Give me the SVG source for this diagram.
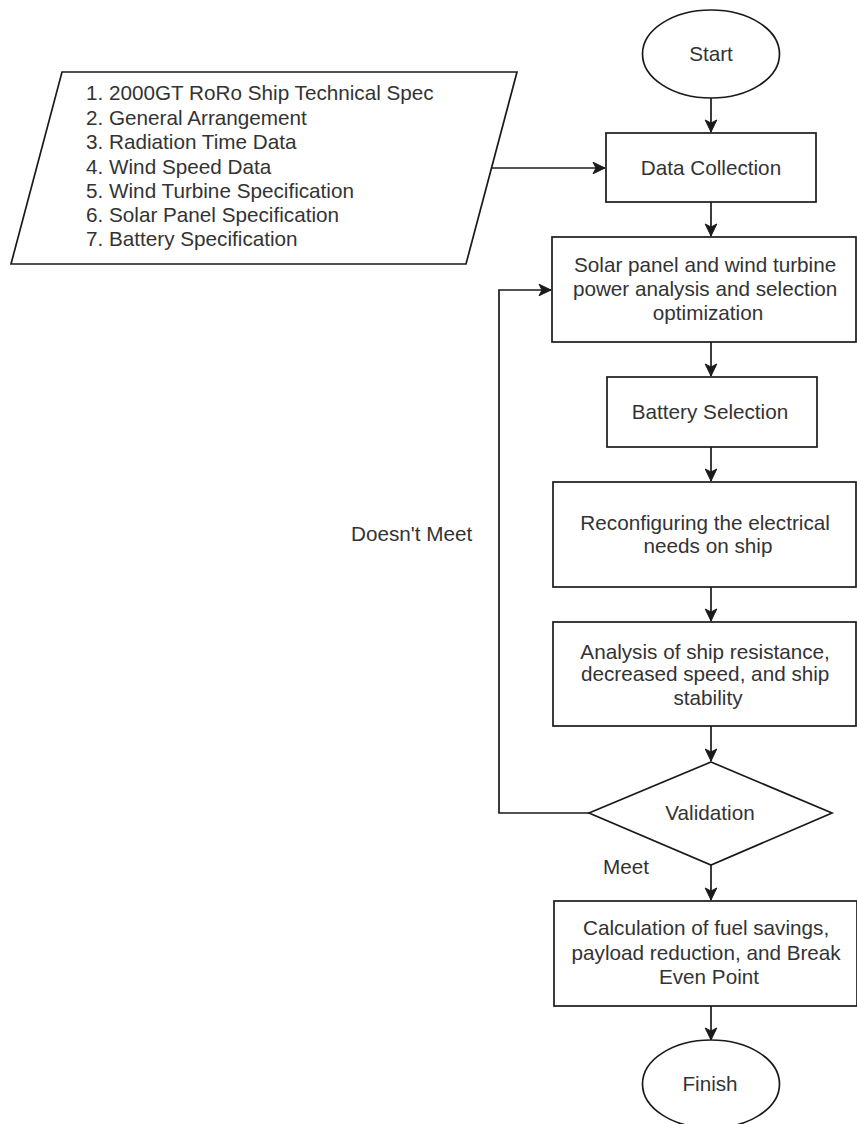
<svg xmlns="http://www.w3.org/2000/svg" width="857" height="1124" viewBox="0 0 857 1124">
  <style>
    .shape { fill: #ffffff; stroke: #1a1a1a; stroke-width: 1.7; }
    .edge { fill: none; stroke: #1a1a1a; stroke-width: 1.7; }
    .label { font-family: "Liberation Sans", Arial, sans-serif; font-size: 20.7px; fill: #333333; }
    .mid { text-anchor: middle; }
  </style>
  <defs>
    <!-- classic notched arrowhead -->
    <marker id="arrow" markerUnits="userSpaceOnUse" markerWidth="16" markerHeight="16" viewBox="-14 -8 16 16" refX="0" refY="0" orient="auto">
      <path d="M0 0 L-12 -5.8 L-9 0 L-12 5.8 Z" fill="#1a1a1a" stroke="#1a1a1a" stroke-width="1" stroke-linejoin="miter"/>
    </marker>
  </defs>

  <rect width="857" height="1124" fill="#ffffff"/>

  <!-- connectors -->
  <g id="connectors">
    <line class="edge" x1="711" y1="98" x2="711" y2="132" marker-end="url(#arrow)"/>
    <line class="edge" x1="492" y1="168" x2="605" y2="168" marker-end="url(#arrow)"/>
    <line class="edge" x1="711" y1="202" x2="711" y2="236" marker-end="url(#arrow)"/>
    <line class="edge" x1="711" y1="342" x2="711" y2="376" marker-end="url(#arrow)"/>
    <line class="edge" x1="711" y1="447" x2="711" y2="481" marker-end="url(#arrow)"/>
    <line class="edge" x1="711" y1="587" x2="711" y2="621" marker-end="url(#arrow)"/>
    <line class="edge" x1="711" y1="726" x2="711" y2="761" marker-end="url(#arrow)"/>
    <line class="edge" x1="711" y1="865" x2="711" y2="900" marker-end="url(#arrow)"/>
    <line class="edge" x1="711" y1="1006" x2="711" y2="1040" marker-end="url(#arrow)"/>
    <!-- "Doesn't Meet" loop back to the power analysis step -->
    <polyline class="edge" points="589,813 499,813 499,290 551,290" marker-end="url(#arrow)"/>
    <text class="label" x="351" y="541">Doesn't Meet</text>
    <text class="label" x="603" y="874">Meet</text>
  </g>

  <g id="start">
    <ellipse class="shape" cx="711" cy="54" rx="68.5" ry="44"/>
    <text class="label mid" x="711" y="61">Start</text>
  </g>

  <g id="input-data">
    <polygon class="shape" points="62,72 517,72 466,264 11,264"/>
    <text class="label" x="86">
      <tspan x="86" y="100">1. 2000GT RoRo Ship Technical Spec</tspan>
      <tspan x="86" y="125">2. General Arrangement</tspan>
      <tspan x="86" y="149">3. Radiation Time Data</tspan>
      <tspan x="86" y="174">4. Wind Speed Data</tspan>
      <tspan x="86" y="198">5. Wind Turbine Specification</tspan>
      <tspan x="86" y="222">6. Solar Panel Specification</tspan>
      <tspan x="86" y="246">7. Battery Specification</tspan>
    </text>
  </g>

  <g id="data-collection">
    <rect class="shape" x="606" y="133" width="210" height="69"/>
    <text class="label mid" x="711" y="175">Data Collection</text>
  </g>

  <g id="power-analysis">
    <rect class="shape" x="552" y="237" width="304" height="105"/>
    <text class="label mid">
      <tspan x="708" y="272">Solar panel and wind turbine</tspan>
      <tspan x="708" y="296">power analysis and selection</tspan>
      <tspan x="708" y="320">optimization</tspan>
    </text>
  </g>

  <g id="battery-selection">
    <rect class="shape" x="607" y="377" width="210" height="70"/>
    <text class="label mid" x="710" y="419">Battery Selection</text>
  </g>

  <g id="reconfiguring">
    <rect class="shape" x="553" y="482" width="303" height="105"/>
    <text class="label mid">
      <tspan x="708" y="530">Reconfiguring the electrical</tspan>
      <tspan x="708" y="553">needs on ship</tspan>
    </text>
  </g>

  <g id="ship-analysis">
    <rect class="shape" x="553" y="622" width="303" height="104"/>
    <text class="label mid">
      <tspan x="708" y="659">Analysis of ship resistance,</tspan>
      <tspan x="708" y="681">decreased speed, and ship</tspan>
      <tspan x="708" y="705">stability</tspan>
    </text>
  </g>

  <g id="validation">
    <polygon class="shape" points="711,762 832,813 711,865 589,813"/>
    <text class="label mid" x="710" y="820">Validation</text>
  </g>

  <g id="calculation">
    <rect class="shape" x="554" y="901" width="303" height="105"/>
    <text class="label mid">
      <tspan x="709" y="935">Calculation of fuel savings,</tspan>
      <tspan x="709" y="960">payload reduction, and Break</tspan>
      <tspan x="709" y="984">Even Point</tspan>
    </text>
  </g>

  <g id="finish">
    <ellipse class="shape" cx="711" cy="1084" rx="68.5" ry="44"/>
    <text class="label mid" x="710" y="1091">Finish</text>
  </g>
</svg>
